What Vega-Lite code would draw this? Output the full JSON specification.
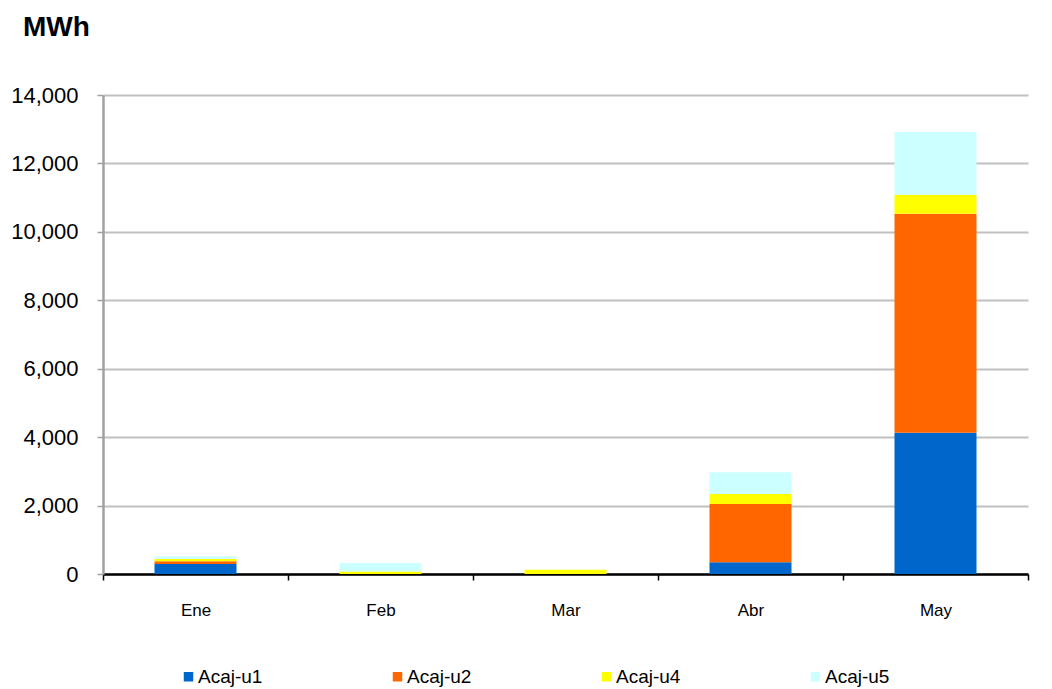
{
  "$schema": "https://vega.github.io/schema/vega-lite/v6.json",
  "width": 925,
  "height": 479,
  "autosize": {"type": "none"},
  "padding": {"left": 103, "top": 95, "right": 24, "bottom": 115},
  "background": "white",
  "title": {"text": "MWh", "anchor": "start", "frame": "group", "dx": -80, "dy": -42, "fontSize": 28, "fontWeight": "bold", "font": "Liberation Sans", "color": "#000000", "offset": 0},
  "data": {"values": [
    {"mes": "Ene", "unidad": "Acaj-u1", "mwh": 292},
    {"mes": "Ene", "unidad": "Acaj-u2", "mwh": 78},
    {"mes": "Ene", "unidad": "Acaj-u4", "mwh": 68},
    {"mes": "Ene", "unidad": "Acaj-u5", "mwh": 78},
    {"mes": "Feb", "unidad": "Acaj-u1", "mwh": 0},
    {"mes": "Feb", "unidad": "Acaj-u2", "mwh": 0},
    {"mes": "Feb", "unidad": "Acaj-u4", "mwh": 70},
    {"mes": "Feb", "unidad": "Acaj-u5", "mwh": 250},
    {"mes": "Mar", "unidad": "Acaj-u1", "mwh": 0},
    {"mes": "Mar", "unidad": "Acaj-u2", "mwh": 0},
    {"mes": "Mar", "unidad": "Acaj-u4", "mwh": 125},
    {"mes": "Mar", "unidad": "Acaj-u5", "mwh": 0},
    {"mes": "Abr", "unidad": "Acaj-u1", "mwh": 342},
    {"mes": "Abr", "unidad": "Acaj-u2", "mwh": 1705},
    {"mes": "Abr", "unidad": "Acaj-u4", "mwh": 292},
    {"mes": "Abr", "unidad": "Acaj-u5", "mwh": 635},
    {"mes": "May", "unidad": "Acaj-u1", "mwh": 4130},
    {"mes": "May", "unidad": "Acaj-u2", "mwh": 6400},
    {"mes": "May", "unidad": "Acaj-u4", "mwh": 555},
    {"mes": "May", "unidad": "Acaj-u5", "mwh": 1833}
  ]},
  "mark": {"type": "bar", "size": 82},
  "encoding": {
    "x": {
      "field": "mes", "type": "nominal", "sort": ["Ene", "Feb", "Mar", "Abr", "May"],
      "scale": {"paddingInner": 0, "paddingOuter": 0},
      "axis": {"title": null, "labelAngle": 0, "labelFontSize": 17, "labelFont": "Liberation Sans", "labelColor": "#000000", "labelPadding": 22, "tickBand": "extent", "tickColor": "#000000", "tickSize": 6, "domainColor": "#000000", "domainWidth": 2.5, "tickWidth": 1.5, "grid": false}
    },
    "y": {
      "field": "mwh", "type": "quantitative", "aggregate": "sum", "stack": "zero",
      "scale": {"domain": [0, 14000], "nice": false},
      "axis": {"title": null, "values": [0, 2000, 4000, 6000, 8000, 10000, 12000, 14000], "format": ",.0f", "labelFontSize": 22, "labelFont": "Liberation Sans", "labelColor": "#000000", "labelPadding": 19, "tickSize": 6, "tickColor": "#A0A0A0", "tickWidth": 1.5, "domainColor": "#A0A0A0", "domainWidth": 2.5, "gridColor": "#C0C0C0", "gridWidth": 2}
    },
    "color": {
      "field": "unidad", "type": "nominal",
      "scale": {"domain": ["Acaj-u1", "Acaj-u2", "Acaj-u4", "Acaj-u5"], "range": ["#0066CC", "#FF6600", "#FFFF00", "#CCFFFF"]},
      "legend": {"title": null, "orient": "none", "legendX": 76, "legendY": 572, "direction": "horizontal", "columns": 4, "symbolType": "square", "symbolSize": 90, "symbolStrokeWidth": 0, "labelFontSize": 19, "labelFont": "Liberation Sans", "labelColor": "#000000", "labelOffset": 0, "columnPadding": 125, "labelLimit": 200}
    },
    "order": {"field": "unidad", "sort": "ascending"}
  },
  "config": {"view": {"stroke": null}}
}
